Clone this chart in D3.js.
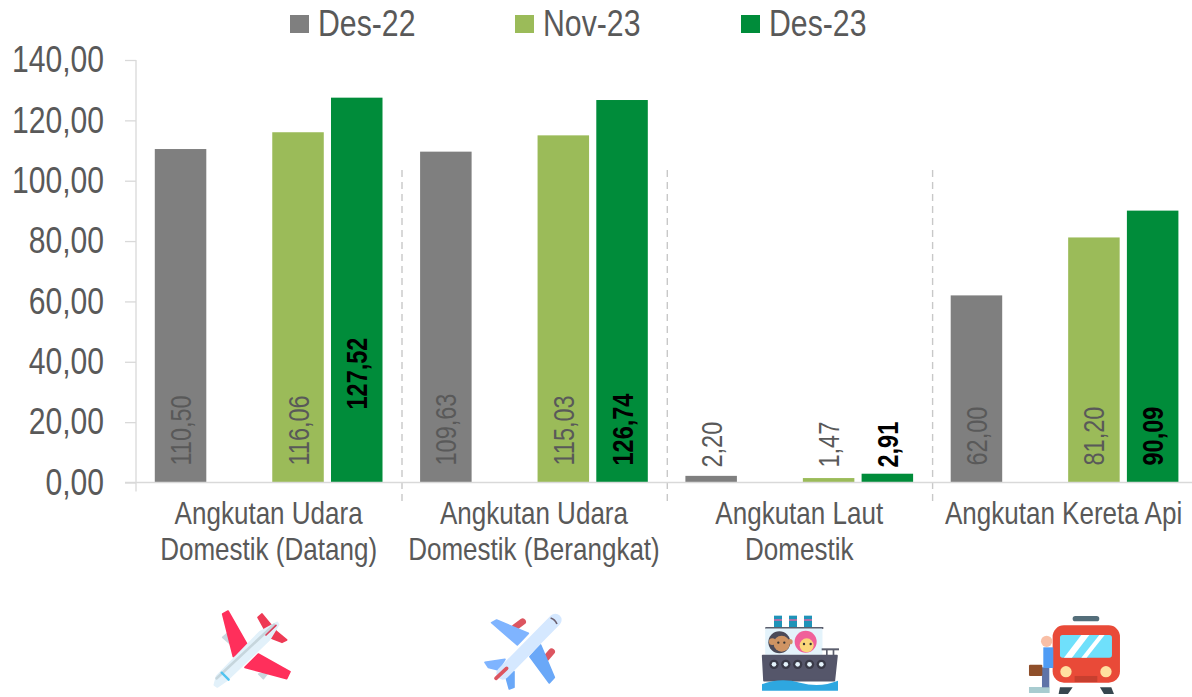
<!DOCTYPE html>
<html>
<head>
<meta charset="utf-8">
<script src="https://cdnjs.cloudflare.com/ajax/libs/d3/7.8.5/d3.min.js"></script>
<style>
  html, body { margin: 0; padding: 0; background: #fff; }
  text { font-family: "Liberation Sans", sans-serif; fill: #595959; }
</style>
</head>
<body>
<div id="graph"></div>
<script>
// data
var categories = [
  ["Angkutan Udara", "Domestik (Datang)"],
  ["Angkutan Udara", "Domestik (Berangkat)"],
  ["Angkutan Laut", "Domestik"],
  ["Angkutan Kereta Api"]
];
var seriesNames = ["Des-22", "Nov-23", "Des-23"];
var seriesColors = ["#7f7f7f", "#9bbb59", "#008c3a"];
var des22 = [110.50, 109.63, 2.20, 62.00];
var nov23 = [116.06, 115.03, 1.47, 81.20];
var des23 = [127.52, 126.74, 2.91, 90.09];
var allValues = [des22, nov23, des23];
var yTicks = [0, 20, 40, 60, 80, 100, 120, 140];

var width = 1192, height = 697;
var margin = {top: 60, left: 136, bottom: 214.5};
var plotWidth = 1061.2, plotHeight = height - margin.top - margin.bottom;

var fmt = function(v) { return v.toFixed(2).replace(".", ","); };

// the original font is a narrow one, so squeeze the installed sans to that width
function narrow(sel, k) {
  sel.each(function() {
    this.setAttribute("textLength", this.getComputedTextLength() * k);
    this.setAttribute("lengthAdjust", "spacingAndGlyphs");
  });
}

var svg = d3.select("#graph").append("svg")
    .attr("width", width)
    .attr("height", height)
    .style("display", "block");

var x0 = d3.scaleBand().domain(d3.range(categories.length)).range([0, plotWidth]);
// the empty slot is the gap the original leaves between Des-22 and Nov-23
var x1 = d3.scaleBand().domain(["Des-22", "", "Nov-23", "Des-23"])
    .range([0, x0.bandwidth()]).paddingInner(0.123).paddingOuter(0.32);
var y = d3.scaleLinear().domain([0, 140]).range([plotHeight, 0]);

var g = svg.append("g").attr("transform", "translate(" + margin.left + "," + margin.top + ")");

// separators between the categories
g.selectAll(".sep").data(d3.range(1, categories.length)).enter().append("line")
    .attr("x1", function(d) { return x0(d) + 0.7; })
    .attr("x2", function(d) { return x0(d) + 0.7; })
    .attr("y1", 110)
    .attr("y2", plotHeight + 21)
    .attr("stroke", "#c8c8c8")
    .attr("stroke-width", 1.4)
    .attr("stroke-dasharray", "7 5");

// Y axis
var yAxis = g.append("g").call(d3.axisLeft(y).tickValues(yTicks).tickFormat(fmt).tickSize(11).tickPadding(21));
yAxis.select(".domain").remove();
yAxis.selectAll("line").attr("stroke", "#d9d9d9").attr("stroke-width", 1.3);
yAxis.selectAll("text").attr("font-size", 36.5).style("fill", "#595959");
narrow(yAxis.selectAll("text"), 0.824);
g.append("line").attr("x1", 0).attr("x2", 0).attr("y1", 0).attr("y2", plotHeight + 9)
    .attr("stroke", "#d9d9d9").attr("stroke-width", 1.3);

// bars
seriesNames.forEach(function(name, s) {
  var group = g.append("g");
  group.selectAll("rect").data(allValues[s]).enter().append("rect")
      .attr("x", function(d, i) { return x0(i) + x1(name); })
      .attr("y", function(d) { return y(d); })
      .attr("width", x1.bandwidth())
      .attr("height", function(d) { return plotHeight - y(d); })
      .attr("fill", seriesColors[s]);

  // value labels, rotated; they all start on one line, only 127,52 was dragged up
  var labels = group.selectAll("text").data(allValues[s]).enter().append("text")
      .attr("transform", function(d, i) {
        var cx = x0(i) + x1(name) + x1.bandwidth() / 2;
        var base = plotHeight - 17 - (s === 2 && i === 0 ? 56 : 0) + (d < 10 ? 2 : 0);
        return "translate(" + (cx + 10.5) + "," + base + ") rotate(-90)";
      })
      .attr("font-size", 29)
      .attr("font-weight", s === 2 ? "bold" : "normal")
      .style("fill", s === 2 ? "#000" : "#595959")
      .text(fmt);
  narrow(labels, 0.81);
});

// X axis line
g.append("line").attr("x1", -11).attr("x2", plotWidth).attr("y1", plotHeight).attr("y2", plotHeight)
    .attr("stroke", "#d9d9d9").attr("stroke-width", 1.5);

// category labels
categories.forEach(function(lines, i) {
  lines.forEach(function(line, k) {
    var cx = x0(i) + x0.bandwidth() / 2 - (i === 3 ? 1 : 0);
    g.append("text").attr("text-anchor", "middle").attr("font-size", 31)
      .attr("transform", "translate(" + cx + "," + (plotHeight + 41 + k * 36) + ") scale(0.84,1)")
      .text(line);
  });
});

// legend
var legendX = [290, 515, 741];
seriesNames.forEach(function(name, s) {
  svg.append("rect").attr("x", legendX[s]).attr("y", 15).attr("width", 19).attr("height", 18).attr("fill", seriesColors[s]);
  var t = svg.append("text").attr("x", legendX[s] + 28).attr("y", 35.5).attr("font-size", 36).text(name);
  narrow(t, 0.84);
});

// ---- pictograms under the categories ----
function shape(parent, pts, fill) {
  parent.append("path").attr("d", d3.line().curve(d3.curveLinearClosed)(pts))
    .attr("fill", fill).attr("stroke", fill).attr("stroke-width", 5).attr("stroke-linejoin", "round");
}
function bar(parent, a, b, w, col) {
  parent.append("line").attr("x1", a[0]).attr("y1", a[1]).attr("x2", b[0]).attr("y2", b[1])
    .attr("stroke", col).attr("stroke-width", w).attr("stroke-linecap", "round");
}
var icons = svg.append("g").attr("transform", "translate(180,590) scale(0.3333)");

// red plane
var p1 = icons.append("g");
shape(p1, [[128,142],[142,130],[155,165]], "#c9d8df");
shape(p1, [[236,252],[264,248],[250,266]], "#c9d8df");
shape(p1, [[128,72],[144,63],[205,170],[160,200]], "#ff2f5b");
shape(p1, [[195,232],[235,192],[330,245],[320,266]], "#ff2f5b");
shape(p1, [[234,82],[246,72],[290,125],[320,150],[306,157],[275,145],[256,122]], "#ee3a55");
shape(p1, [[103,285],[110,258],[240,125],[292,97],[296,104],[268,150],[140,272],[112,291]], "#e2f1fa");
bar(p1, [110,265], [282,104], 8, "#c6d6dd");
bar(p1, [125,248], [146,269], 7, "#4fc3f0");
bar(p1, [258,135], [288,106], 5, "#d9415c");

// blue plane
var p2 = icons.append("g");
bar(p2, [1005,112], [1028,95], 20, "#dc5560");
bar(p2, [1095,208], [1115,185], 20, "#dc5560");
shape(p2, [[935,98],[950,90],[1045,130],[1012,165]], "#7fb4ff");
shape(p2, [[1050,200],[1082,165],[1123,262],[1108,279]], "#6aa8f8");
shape(p2, [[915,217],[975,208],[955,240],[925,232]], "#7fb4ff");
shape(p2, [[975,250],[1002,245],[1002,292],[988,297]], "#6aa8f8");
bar(p2, [968,250], [1126,90], 38, "#d5e8ff");
bar(p2, [948,265], [980,235], 11, "#dc5560");
p2.append("path").attr("d", "M1112,84Q1125,88 1131,102").attr("fill", "none").attr("stroke", "#6b6070").attr("stroke-width", 5);

// ship (crop origin differs from the planes)
var p3 = svg.append("g").attr("transform", "translate(740,590) scale(0.3333)");
[114, 159, 204].forEach(function(cx) {
  p3.append("rect").attr("x", cx - 12).attr("y", 77).attr("width", 24).attr("height", 36).attr("fill", "#1f93b8");
  p3.append("rect").attr("x", cx - 12).attr("y", 88).attr("width", 24).attr("height", 4).attr("fill", "#f062a0");
});
p3.append("rect").attr("x", 76).attr("y", 111).attr("width", 174).attr("height", 6).attr("fill", "#5b5e6d");
shape(p3, [[78,118],[245,118],[245,192],[78,192]], "#e4f3fb");
p3.append("rect").attr("x", 245).attr("y", 175).attr("width", 52).attr("height", 6).attr("fill", "#5b5e6d");
p3.append("rect").attr("x", 258).attr("y", 180).attr("width", 5).attr("height", 16).attr("fill", "#5b5e6d");
p3.append("rect").attr("x", 278).attr("y", 180).attr("width", 5).attr("height", 16).attr("fill", "#5b5e6d");
p3.append("circle").attr("cx", 118).attr("cy", 157).attr("r", 33).attr("fill", "#4b4a58");
p3.append("circle").attr("cx", 125).attr("cy", 161).attr("r", 24).attr("fill", "#cf9463");
p3.append("circle").attr("cx", 97).attr("cy", 155).attr("r", 10).attr("fill", "#cf9463");
p3.append("circle").attr("cx", 150).attr("cy", 155).attr("r", 8).attr("fill", "#cf9463");
p3.append("circle").attr("cx", 197).attr("cy", 155).attr("r", 33).attr("fill", "#f0609a");
p3.append("circle").attr("cx", 200).attr("cy", 166).attr("r", 21).attr("fill", "#fbd67a");
[[115,158],[133,158],[192,162],[212,162]].forEach(function(e) {
  p3.append("circle").attr("cx", e[0]).attr("cy", e[1]).attr("r", 3.5).attr("fill", "#333");
});
shape(p3, [[68,197],[291,197],[283,272],[72,272]], "#55566a");
d3.range(5).forEach(function(i) {
  var cx = 102 + i * 35.5;
  p3.append("circle").attr("cx", cx).attr("cy", 223).attr("r", 14).attr("fill", "#3a3a48");
  p3.append("circle").attr("cx", cx).attr("cy", 223).attr("r", 7).attr("fill", "#e4f3fb");
});
p3.append("path").attr("d", "M66,302V283Q120,262 180,278T294,272V302Z").attr("fill", "#2ea7e0");

// train
var p4 = svg.append("g").attr("transform", "translate(740,590) scale(0.3333)");
p4.append("rect").attr("x", 998).attr("y", 78).attr("width", 80).attr("height", 16).attr("rx", 8).attr("fill", "#546e7a");
p4.append("path").attr("d", "M960,292L956,312H984L998,292Z").attr("fill", "#37474f");
p4.append("path").attr("d", "M1080,292L1092,312H1122L1114,292Z").attr("fill", "#37474f");
p4.append("rect").attr("x", 938).attr("y", 106).attr("width", 202).attr("height", 172).attr("rx", 34).attr("fill", "#e94a38");
p4.append("rect").attr("x", 960).attr("y", 135).attr("width", 156).attr("height", 68).attr("rx", 8).attr("fill", "#6fe0fb");
p4.append("path").attr("d", "M972,203L1024,135H1048L996,203Z").attr("fill", "#fff");
p4.append("path").attr("d", "M1024,203L1078,135H1094L1040,203Z").attr("fill", "#fff");
p4.append("circle").attr("cx", 978).attr("cy", 245).attr("r", 17).attr("fill", "#ffe0a0");
p4.append("circle").attr("cx", 1098).attr("cy", 245).attr("r", 17).attr("fill", "#ffe0a0");
p4.append("rect").attr("x", 1004).attr("y", 258).attr("width", 68).attr("height", 18).attr("fill", "#c73f2f");
p4.append("rect").attr("x", 867).attr("y", 291).attr("width", 62).attr("height", 18).attr("fill", "#a8ccd0");
p4.append("rect").attr("x", 906).attr("y", 232).attr("width", 22).attr("height", 60).attr("fill", "#5f74a8");
p4.append("rect").attr("x", 910).attr("y", 172).attr("width", 30).attr("height", 62).attr("fill", "#4f9cf5");
p4.append("circle").attr("cx", 920).attr("cy", 154).attr("r", 17).attr("fill", "#f9bfa6");
p4.append("rect").attr("x", 867).attr("y", 224).attr("width", 40).attr("height", 34).attr("rx", 3).attr("fill", "#8f4f2a");
</script>
</body>
</html>
